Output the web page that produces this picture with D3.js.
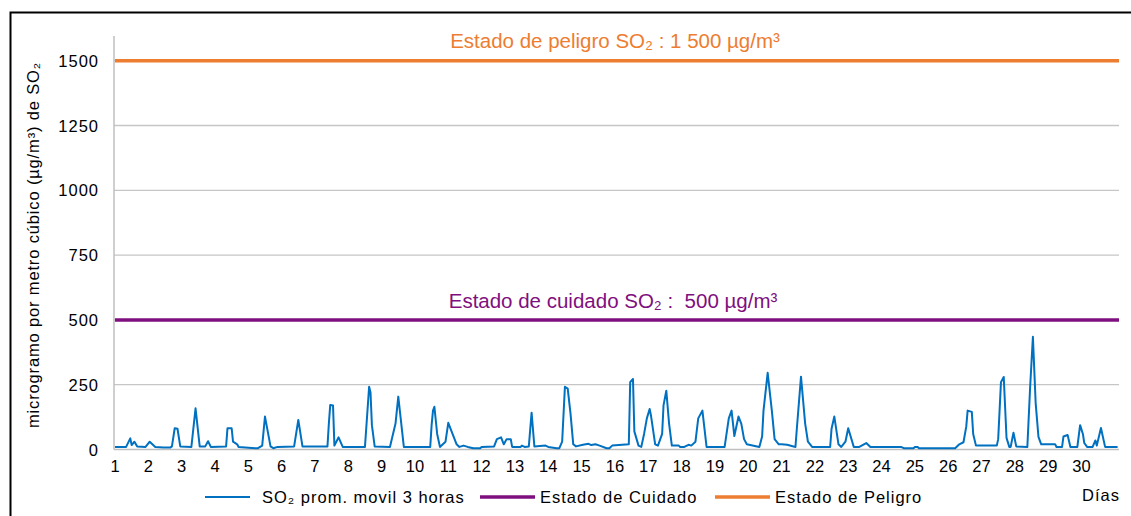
<!DOCTYPE html>
<html>
<head>
<meta charset="utf-8">
<script src="https://cdn.jsdelivr.net/npm/d3@7"></script>
<style>
  body { margin: 0; background: #fff; }
  svg text { font-family: "Liberation Sans", Arial, sans-serif; fill: #000; white-space: pre; }
</style>
</head>
<body>
<div id="chart"></div>
<script>
// hourly 3h moving average of SO2: [hour from day 1 00h, value]
const so2Hours = [0,8,11,12,14,16,22,25,29,35,40,41,43,45,47,55,58,61,65,67,69,80,81,84,85,88,89,101,103,106,108,112,114,117,129,132,135,153,154,155,157,158,161,164,174,
  180,183,184,185,187,198,202,204,208,227,228,229,230,232,234,238,240,246,248,251,254,258,263,264,273,275,278,280,282,285,286,292,293,295,298,300,302,310,312,318,320,322,324,326,328,330,332,337,341,343,346,349,354,
  356,358,370,371,373,374,377,379,381,383,385,386,389,391,394,395,397,399,401,406,407,410,413,415,418,420,423,426,439,442,444,446,449,451,453,455,464,466,467,470,473,475,478,480,484,490,491,494,497,499,502,515,516,518,521,523,526,528,532,
  536,541,544,566,568,575,576,578,579,605,608,611,613,614,617,618,620,635,636,638,640,642,644,645,647,649,657,659,661,663,665,667,677,678,682,683,686,688,693,695,697,698,700,704,706,707,710,713,722];
const so2Values = [10,10,43,17,30,12,10,30,10,8,8,12,82,80,12,10,159,12,12,32,10,12,82,82,30,20,10,5,5,15,127,12,5,10,12,114,12,12,100,172,170,15,47,10,10,
  10,242,220,94,12,10,100,204,10,10,94,150,165,60,10,30,103,20,10,15,10,5,5,10,12,40,47,20,40,40,10,10,15,10,12,142,12,15,10,5,5,30,242,235,140,20,12,18,22,17,20,15,5,
  5,15,20,260,272,70,15,10,60,120,156,130,20,15,60,170,227,100,15,15,10,10,18,15,30,120,150,10,10,120,150,52,127,100,40,20,10,50,150,296,150,40,20,20,18,10,80,281,100,30,10,10,80,127,20,10,30,82,10,
  10,25,10,10,5,5,10,10,5,5,20,28,88,150,145,60,15,15,40,260,280,45,10,10,65,12,10,240,435,178,49,20,20,10,10,50,56,10,10,94,60,25,10,10,35,15,83,10,10];

const dayLabels = d3.range(1, 31);
const yTicks = [0, 250, 500, 750, 1000, 1250, 1500];
const cuidado = 500, peligro = 1500;
const cuidadoTitle = "Estado de cuidado SO\u2082 :  500 µg/m³";
const peligroTitle = "Estado de peligro SO\u2082 : 1 500 µg/m³";
const legendLabels = ["SO\u2082 prom. movil 3 horas", "Estado de Cuidado", "Estado de Peligro"];

const width = 1131, height = 516;
const blue = "#0070C0", purple = "#7F0F7E", orange = "#ED7D31";

const data = so2Hours.map((h, i) => ({h: h, v: so2Values[i]}));

const x = d3.scaleLinear().domain([0, 723]).range([115, 1119]);
const y = d3.scaleLinear().domain([0, 1500]).range([449.5, 60.7]);

const svg = d3.select("#chart").append("svg")
  .attr("width", width).attr("height", height);

// outer frame (only top and left visible)
svg.append("path")
  .attr("d", "M10.5,516 L10.5,12.5 L1131,12.5")
  .attr("fill", "none").attr("stroke", "#000").attr("stroke-width", 2);

// gridlines
svg.append("g").selectAll("line").data(yTicks.slice(1)).join("line")
  .attr("x1", 114).attr("x2", 1119)
  .attr("y1", d => y(d)).attr("y2", d => y(d))
  .attr("stroke", "#c6c6c6").attr("stroke-width", 1.3);

// axes lines
svg.append("line").attr("x1", 114).attr("x2", 114).attr("y1", 36).attr("y2", y(0))
  .attr("stroke", "#bfbfbf").attr("stroke-width", 1.5);
svg.append("line").attr("x1", 114).attr("x2", 1119).attr("y1", y(0)).attr("y2", y(0))
  .attr("stroke", "#bfbfbf").attr("stroke-width", 1.5);

// y tick labels
svg.append("g").selectAll("text").data(yTicks).join("text")
  .attr("x", 99).attr("y", d => y(d) + 6)
  .attr("text-anchor", "end").attr("font-size", 16.5).attr("letter-spacing", 1)
  .text(d => d);

// x tick labels
svg.append("g").selectAll("text").data(dayLabels).join("text")
  .attr("x", d => x((d - 1) * 24)).attr("y", 472)
  .attr("text-anchor", "middle").attr("font-size", 16.5)
  .text(d => d);

svg.append("text").attr("x", 1120).attr("y", 501)
  .attr("text-anchor", "end").attr("font-size", 16.5).attr("letter-spacing", 1).text("Días");

// y axis title
svg.append("text")
  .attr("transform", `translate(39,${(60 + 430) / 2}) rotate(-90)`)
  .attr("text-anchor", "middle").attr("font-size", 16.5).attr("letter-spacing", 0.85)
  .text("microgramo por metro cúbico (µg/m³) de SO\u2082");

// threshold lines
svg.append("line").attr("x1", 115).attr("x2", 1119)
  .attr("y1", y(peligro)).attr("y2", y(peligro))
  .attr("stroke", orange).attr("stroke-width", 3.5);
svg.append("line").attr("x1", 115).attr("x2", 1119)
  .attr("y1", y(cuidado)).attr("y2", y(cuidado))
  .attr("stroke", purple).attr("stroke-width", 3.5);

svg.append("text").attr("x", 615).attr("y", 48)
  .attr("text-anchor", "middle").attr("font-size", 20.5)
  .style("fill", orange).text(peligroTitle);
svg.append("text").attr("x", 613).attr("y", 307.5)
  .attr("text-anchor", "middle").attr("font-size", 20.5)
  .style("fill", purple).text(cuidadoTitle);

// SO2 series
const line = d3.line().x(d => x(d.h)).y(d => y(d.v));
svg.append("path").datum(data)
  .attr("d", line)
  .attr("fill", "none").attr("stroke", blue).attr("stroke-width", 2)
  .attr("stroke-linejoin", "round");

// legend
const legendX = [205, 480, 715];
const legendW = [45, 55, 55];
const legendC = [blue, purple, orange];
const legendSW = [2, 3.5, 3.5];
const lg = svg.append("g");
legendLabels.forEach((t, i) => {
  lg.append("line").attr("x1", legendX[i]).attr("x2", legendX[i] + legendW[i])
    .attr("y1", 497).attr("y2", 497)
    .attr("stroke", legendC[i]).attr("stroke-width", legendSW[i]);
  lg.append("text").attr("x", legendX[i] + legendW[i] + (i === 0 ? 12 : 5)).attr("y", 503)
    .attr("font-size", 16.5).attr("letter-spacing", 1).text(t);
});
</script>
</body>
</html>
